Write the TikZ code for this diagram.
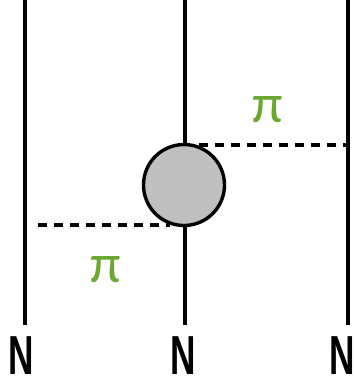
\documentclass[tikz,border=0pt]{standalone}
\usepackage{fontspec}
\setmainfont{Liberation Sans}
\newfontfamily\pifont{Carlito}
\definecolor{pigreen}{RGB}{106,168,48}
\begin{document}
\begin{tikzpicture}[x=1pt,y=-1pt,
  wire/.style={line width=3.6pt},
  meson/.style={line width=3.4pt,dash pattern=on 9pt off 7pt},
  blob/.style={circle,draw,line width=3.4pt,fill={rgb,255:red,192;green,192;blue,192},minimum size=81pt,inner sep=0pt},
  nlabel/.style={font=\fontsize{55}{55}\selectfont\bfseries,inner sep=0pt},
  pilabel/.style={font=\pifont\fontsize{55}{55}\selectfont,text=pigreen,inner sep=0pt}]
\useasboundingbox (0,0) rectangle (356,381);
\coordinate (t1) at (25,0);
\coordinate (b1) at (25,325);
\coordinate (t2) at (185,0);
\coordinate (b2) at (185,325);
\coordinate (t3) at (348,0);
\coordinate (b3) at (348,325);
\draw[wire] (t1) -- (b1);
\draw[wire] (t2) -- (b2);
\draw[wire] (t3) -- (b3);
\node[blob] (c) at (184,185) {};
\coordinate (r1) at (348,145);
\coordinate (l1) at (38,225);
\coordinate (cu) at (199,145);
\coordinate (cd) at (170,225);
\draw[meson] (cu) -- (r1);
\draw[meson] (l1) -- (cd);
\node[pilabel] (p1) at (268,110) {π};
\node[pilabel] (p2) at (106,270) {π};
\node[nlabel] (n1) at (21,356) {\scalebox{0.64}[1]{N}};
\node[nlabel] (n2) at (183,356) {\scalebox{0.64}[1]{N}};
\node[nlabel] (n3) at (342,356) {\scalebox{0.64}[1]{N}};
\end{tikzpicture}
\end{document}
